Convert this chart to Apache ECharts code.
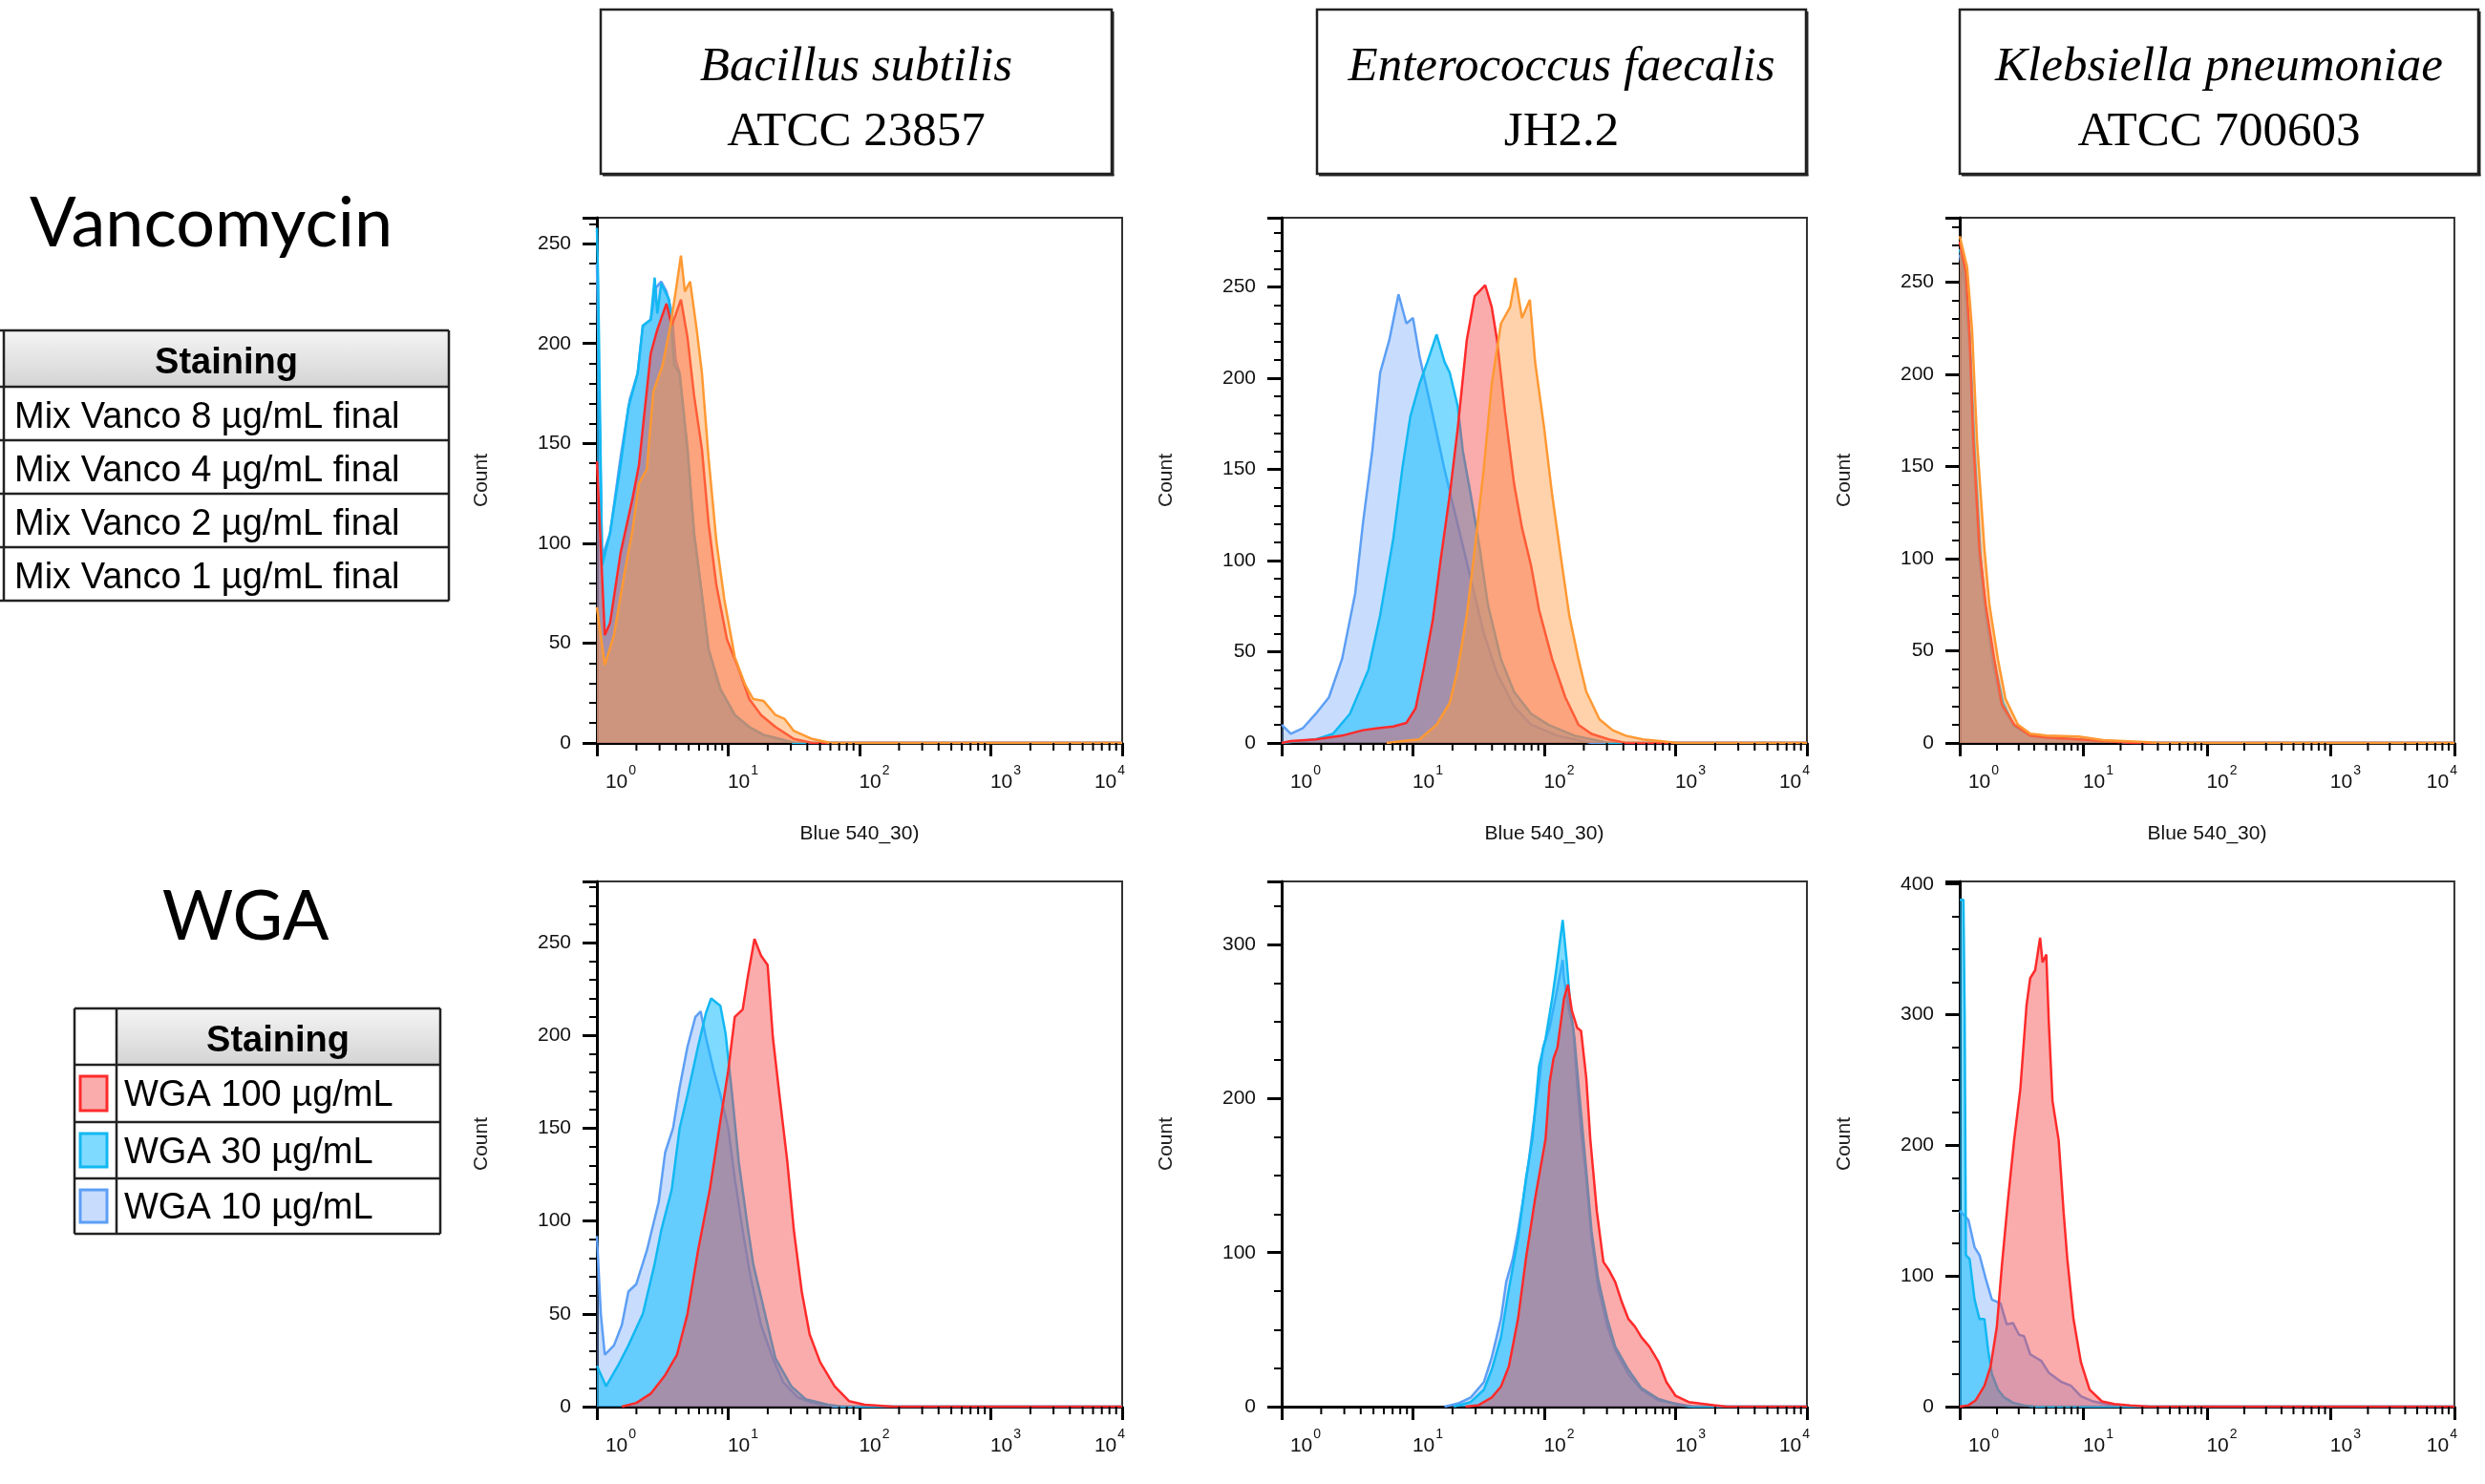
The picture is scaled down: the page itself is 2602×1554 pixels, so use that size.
<!DOCTYPE html>
<html>
<head>
<meta charset="utf-8">
<script src="https://cdn.jsdelivr.net/npm/echarts@6/dist/echarts.min.js"></script>
<style>
html, body { margin: 0; padding: 0; background: #fff; }
#chart { width: 2602px; height: 1554px; }
</style>
</head>
<body>
<div id="chart"></div>
<script>
// x values are log10 of the fluorescence (Blue 540_30), y values are counts
const decadeTicks = [0, 1, 2, 3, 4];
const minorFactors = [2, 3, 4, 5, 6, 7, 8, 9];

const speciesNames = ['Bacillus subtilis', 'Enterococcus faecalis', 'Klebsiella pneumoniae'];
const strainNames = ['ATCC 23857', 'JH2.2', 'ATCC 700603'];
const vancoLabels = ['Mix Vanco 8 µg/mL final', 'Mix Vanco 4 µg/mL final', 'Mix Vanco 2 µg/mL final', 'Mix Vanco 1 µg/mL final'];
const wgaLabels = ['WGA 100 µg/mL', 'WGA 30 µg/mL', 'WGA 10 µg/mL'];

// Bacillus subtilis - vancomycin
const bacV1 = [[0,240],[0.01,200],[0.04,93],[0.1,105],[0.18,143],[0.25,172],[0.31,185],[0.35,209],[0.41,212],[0.45,228],[0.49,231],[0.53,226],[0.57,216],[0.6,192],[0.63,185],[0.69,147],[0.74,105],[0.8,74],[0.85,47],[0.94,27],[1.05,14],[1.16,8],[1.27,4],[1.39,2],[1.5,0],[4,0]];
const bacV2 = [[0,258],[0.01,230],[0.04,89],[0.1,105],[0.18,139],[0.24,168],[0.31,185],[0.35,209],[0.41,212],[0.44,233],[0.46,215],[0.49,230],[0.55,222],[0.59,189],[0.63,185],[0.69,147],[0.74,105],[0.8,74],[0.85,47],[0.94,27],[1.05,14],[1.16,8],[1.27,4],[1.39,2],[1.5,0],[4,0]];
const bacV4 = [[0,141],[0.06,54],[0.1,60],[0.18,95],[0.27,122],[0.32,139],[0.36,164],[0.41,195],[0.46,207],[0.53,220],[0.57,209],[0.64,222],[0.69,203],[0.74,174],[0.8,147],[0.85,110],[0.91,79],[0.99,52],[1.08,37],[1.16,22],[1.25,14],[1.36,8],[1.5,2],[1.64,0],[4,0]];
const bacV8 = [[0,68],[0.06,39],[0.13,54],[0.21,85],[0.27,106],[0.32,130],[0.38,137],[0.43,176],[0.5,189],[0.56,209],[0.6,226],[0.64,244],[0.67,226],[0.71,231],[0.76,207],[0.8,185],[0.85,143],[0.91,101],[0.97,72],[1.05,43],[1.13,29],[1.19,22],[1.27,21],[1.36,14],[1.43,12],[1.5,6],[1.64,2],[1.78,0],[4,0]];

// Enterococcus faecalis - vancomycin
const entV1 = [[0,10],[0.07,5],[0.16,8],[0.26,16],[0.36,25],[0.46,46],[0.56,82],[0.62,121],[0.69,160],[0.75,203],[0.82,221],[0.89,246],[0.95,230],[1.0,233],[1.05,212],[1.15,180],[1.24,150],[1.34,120],[1.44,90],[1.54,60],[1.64,38],[1.77,20],[1.9,10],[2.1,4],[2.36,0],[4,0]];
const entV2 = [[0,0],[0.26,2],[0.39,5],[0.52,16],[0.66,40],[0.75,70],[0.85,112],[0.92,151],[0.98,179],[1.05,197],[1.11,209],[1.18,224],[1.24,209],[1.28,203],[1.34,185],[1.38,160],[1.44,136],[1.51,106],[1.57,76],[1.67,46],[1.77,28],[1.9,16],[2.03,10],[2.23,4],[2.49,0],[4,0]];
const entV4 = [[0,0],[0.07,1],[0.26,2],[0.46,4],[0.62,7],[0.72,8],[0.85,9],[0.95,11],[1.02,19],[1.08,40],[1.15,67],[1.21,100],[1.28,136],[1.34,172],[1.41,221],[1.47,245],[1.55,251],[1.6,239],[1.64,221],[1.7,182],[1.77,142],[1.83,118],[1.9,97],[1.96,73],[2.06,46],[2.16,25],[2.26,10],[2.36,5],[2.49,2],[2.62,0],[4,0]];
const entV8 = [[0.8,0],[0.92,1],[1.05,2],[1.18,10],[1.28,22],[1.34,40],[1.41,70],[1.47,106],[1.54,151],[1.6,197],[1.67,230],[1.74,239],[1.78,255],[1.83,233],[1.89,243],[1.93,209],[2.0,172],[2.06,136],[2.13,100],[2.19,70],[2.26,46],[2.32,28],[2.42,13],[2.52,7],[2.62,4],[2.75,2],[2.88,1],[3.01,0],[4,0]];

// Klebsiella pneumoniae - vancomycin
const klbV1 = [[0,265],[0.04,248],[0.08,215],[0.11,160],[0.16,100],[0.21,70],[0.27,42],[0.34,20],[0.44,9],[0.57,4],[0.7,3],[0.96,2],[1.2,1],[1.4,0],[4,0]];
const klbV2 = [[0,268],[0.05,250],[0.08,222],[0.12,160],[0.17,100],[0.21,72],[0.28,44],[0.35,22],[0.44,9],[0.57,4],[0.7,3],[0.96,2],[1.2,1],[1.4,0],[4,0]];
const klbV4 = [[0,272],[0.05,255],[0.08,220],[0.11,164],[0.16,105],[0.21,75],[0.28,45],[0.34,21],[0.44,10],[0.57,4],[0.7,3],[0.96,2],[1.16,1],[1.4,0],[4,0]];
const klbV8 = [[0,275],[0.01,274],[0.06,258],[0.1,224],[0.14,164],[0.2,105],[0.24,75],[0.31,45],[0.37,24],[0.47,10],[0.57,5],[0.7,4],[0.96,3.5],[1.16,1.5],[1.49,0.5],[1.62,0],[4,0]];

// Bacillus subtilis - WGA
const bacW10 = [[0,92],[0.03,50],[0.06,28],[0.13,33],[0.19,44],[0.24,62],[0.3,66],[0.38,84],[0.47,110],[0.52,137],[0.58,150],[0.63,172],[0.69,194],[0.75,210],[0.79,213],[0.83,199],[0.89,181],[0.94,168],[1.0,150],[1.05,123],[1.11,95],[1.17,70],[1.25,44],[1.34,26],[1.42,13],[1.53,5],[1.64,2],[1.81,0],[4,0]];
const bacW30 = [[0,22],[0.07,11],[0.16,22],[0.24,33],[0.35,50],[0.44,77],[0.49,95],[0.57,117],[0.63,150],[0.69,168],[0.77,194],[0.83,212],[0.87,220],[0.94,216],[0.98,201],[1.03,168],[1.08,132],[1.14,101],[1.19,77],[1.28,50],[1.36,26],[1.48,11],[1.59,4],[1.76,1],[1.87,0],[4,0]];
const bacW100 = [[0.19,0],[0.3,2],[0.41,7],[0.52,17],[0.61,28],[0.69,50],[0.77,84],[0.86,117],[0.94,154],[1.0,181],[1.05,210],[1.11,214],[1.15,232],[1.2,252],[1.25,243],[1.3,238],[1.34,199],[1.39,168],[1.45,132],[1.5,95],[1.56,62],[1.62,39],[1.7,24],[1.81,11],[1.92,3],[2.04,1],[2.26,0],[4,0]];

// Enterococcus faecalis - WGA
const entW10 = [[1.24,0],[1.34,2],[1.44,6],[1.54,16],[1.6,32],[1.67,57],[1.71,81],[1.76,96],[1.8,114],[1.84,135],[1.88,158],[1.91,179],[1.96,210],[1.99,233],[2.04,246],[2.09,267],[2.14,290],[2.15,278],[2.19,257],[2.22,246],[2.25,210],[2.28,179],[2.32,148],[2.36,109],[2.41,78],[2.48,52],[2.54,37],[2.64,21],[2.74,11],[2.87,4],[3.0,2],[3.13,0],[4,0]];
const entW30 = [[1.31,0],[1.44,3],[1.54,11],[1.6,24],[1.67,45],[1.73,76],[1.8,109],[1.86,148],[1.91,174],[1.96,221],[2.01,239],[2.06,265],[2.09,283],[2.14,316],[2.17,290],[2.2,259],[2.23,239],[2.27,200],[2.32,153],[2.36,114],[2.41,83],[2.48,57],[2.54,39],[2.64,24],[2.74,12],[2.87,5],[3.03,1],[3.13,0],[4,0]];
const entW100 = [[1.4,0],[1.5,1],[1.6,6],[1.67,13],[1.73,26],[1.8,57],[1.86,96],[1.93,135],[2.01,174],[2.04,210],[2.07,226],[2.1,233],[2.15,265],[2.18,274],[2.21,257],[2.25,246],[2.28,244],[2.32,213],[2.35,174],[2.4,127],[2.45,94],[2.49,89],[2.54,81],[2.59,68],[2.64,57],[2.69,52],[2.74,45],[2.8,39],[2.87,29],[2.93,16],[3.0,7],[3.1,3],[3.19,2],[3.29,1],[3.39,0],[4,0]];

// Klebsiella pneumoniae - WGA
const klbW10 = [[0,150],[0.04,146],[0.07,143],[0.12,122],[0.16,116],[0.21,98],[0.26,82],[0.33,79],[0.38,63],[0.43,64],[0.48,55],[0.52,54],[0.57,40],[0.66,35],[0.72,26],[0.82,19],[0.9,16],[0.98,8],[1.08,4],[1.18,2],[1.28,0],[4,0]];
const klbW30 = [[0,388],[0.03,388],[0.04,300],[0.05,116],[0.08,113],[0.12,82],[0.16,67],[0.2,67],[0.23,43],[0.26,25],[0.31,13],[0.36,7],[0.43,3],[0.52,1],[0.62,0],[4,0]];
const klbW100 = [[0,0],[0.07,1],[0.13,5],[0.2,16],[0.25,31],[0.3,61],[0.34,107],[0.39,158],[0.44,204],[0.49,243],[0.54,307],[0.57,328],[0.61,334],[0.65,359],[0.67,340],[0.7,346],[0.72,295],[0.75,234],[0.8,204],[0.84,149],[0.87,113],[0.92,67],[0.98,34],[1.05,13],[1.15,4],[1.25,2],[1.38,1],[1.54,0],[4,0]];

var blue = { line: '#5d9ff5', area: 'rgba(125,175,250,0.42)' };
var cyan = { line: '#12b8f2', area: 'rgba(20,190,255,0.55)' };
var red = { line: '#ff2b2b', area: 'rgba(245,70,70,0.45)' };
var orange = { line: '#ff9933', area: 'rgba(255,155,70,0.45)' };

var panels = [
    { left: 625, top: 228, width: 550, yMax: 263, major: 50, minor: 10, xName: true, sets: [bacV1, bacV2, bacV4, bacV8], colors: [blue, cyan, red, orange] },
    { left: 1342, top: 228, width: 550, yMax: 288, major: 50, minor: 10, xName: true, sets: [entV1, entV2, entV4, entV8], colors: [blue, cyan, red, orange] },
    { left: 2052, top: 228, width: 551, yMax: 285, major: 50, minor: 10, xName: true, sets: [klbV1, klbV2, klbV4, klbV8], colors: [blue, cyan, red, orange] },
    { left: 625, top: 923, width: 550, yMax: 283, major: 50, minor: 10, xName: false, sets: [bacW10, bacW30, bacW100], colors: [blue, cyan, red] },
    { left: 1342, top: 923, width: 550, yMax: 341, major: 100, minor: 25, xName: false, sets: [entW10, entW30, entW100], colors: [blue, cyan, red] },
    { left: 2052, top: 923, width: 551, yMax: 402, major: 100, minor: 25, xName: false, sets: [klbW10, klbW30, klbW100], colors: [blue, cyan, red] }
];

var axisFont = 'Liberation Sans';

// minor ticks of the log axis, at 2..9 times each decade
var minorTickData = [];
decadeTicks.slice(0, 4).forEach(function (d) {
    minorFactors.forEach(function (k) { minorTickData.push([d + Math.log10(k), 0]); });
});

function minorTickItem(params, api) {
    var p = api.coord([api.value(0), 0]);
    return {
        type: 'line',
        shape: { x1: p[0], y1: p[1], x2: p[0], y2: p[1] + 8 },
        style: { stroke: '#000', lineWidth: 2 }
    };
}

// 10^n label, shifted right of its tick (last one shifted left)
function decadeLabel(v) {
    if (v === 4) return '{b|10}{s|' + v + '}{g4| }';
    if (v === 0) return '{g0| }{b|10}{s|' + v + '}';
    return '{g1| }{b|10}{s|' + v + '}';
}

var grid = [], xAxis = [], yAxis = [], series = [];

panels.forEach(function (p, i) {
    grid.push({ left: p.left, top: p.top, width: p.width, height: 550, show: true, borderColor: '#333', borderWidth: 2 });
    xAxis.push({
        gridIndex: i, type: 'value', min: 0, max: 4, interval: 1,
        name: p.xName ? 'Blue 540_30)' : '', nameLocation: 'middle', nameGap: 85,
        nameTextStyle: { fontSize: 21, fontFamily: axisFont, color: '#111' },
        axisLine: { show: true, onZero: false, lineStyle: { color: '#000', width: 3 } },
        axisTick: { show: true, length: 14, lineStyle: { color: '#000', width: 3 } },
        splitLine: { show: false },
        axisLabel: {
            align: 'center', margin: 22,
            formatter: decadeLabel,
            rich: {
                b: { fontSize: 21, fontFamily: axisFont, color: '#111', lineHeight: 22, verticalAlign: 'top', padding: [9, 0, 0, 0] },
                s: { fontSize: 14, fontFamily: axisFont, color: '#111', lineHeight: 14, verticalAlign: 'top', padding: [0, 0, 17, 1] },
                g0: { width: 50, fontSize: 10, lineHeight: 10 },
                g1: { width: 31, fontSize: 10, lineHeight: 10 },
                g4: { width: 26, fontSize: 10, lineHeight: 10 }
            }
        }
    });
    yAxis.push({
        gridIndex: i, type: 'value', position: 'left', min: 0, max: p.yMax, interval: p.major,
        name: 'Count', nameLocation: 'middle', nameGap: 110, nameRotate: 90,
        nameTextStyle: { fontSize: 21, fontFamily: axisFont, color: '#222' },
        axisLine: { show: true, lineStyle: { color: '#000', width: 3 } },
        axisTick: { show: true, length: 15, lineStyle: { color: '#000', width: 3 } },
        splitLine: { show: false },
        axisLabel: {
            margin: 27, fontSize: 21, fontFamily: axisFont, color: '#111',
            formatter: function (v) { return v % p.major === 0 ? String(v) : ''; }
        }
    });
    yAxis.push({
        gridIndex: i, type: 'value', position: 'left', min: 0, max: p.yMax, interval: p.minor,
        axisLine: { show: false },
        axisTick: { show: true, length: 8, lineStyle: { color: '#000', width: 2 } },
        axisLabel: { show: false },
        splitLine: { show: false }
    });
    p.sets.forEach(function (d, k) {
        series.push({
            type: 'line', xAxisIndex: i, yAxisIndex: 2 * i, data: d,
            symbol: 'none', showSymbol: false, smooth: false,
            lineStyle: { color: p.colors[k].line, width: 2.5 },
            itemStyle: { color: p.colors[k].line },
            areaStyle: { color: p.colors[k].area, opacity: 1 },
            z: 2 + k
        });
    });
    series.push({
        type: 'custom', xAxisIndex: i, yAxisIndex: 2 * i, data: minorTickData,
        renderItem: minorTickItem, clip: false, silent: true, z: 10
    });
});

var elements = [];

function addText(x, y, text, size, family, opts) {
    opts = opts || {};
    elements.push({
        type: 'text', x: x, y: y, z: 20,
        style: {
            text: text, fontSize: size, fontFamily: family,
            fontStyle: opts.italic ? 'italic' : 'normal',
            fontWeight: opts.bold ? 'bold' : 'normal',
            fill: '#000', align: opts.align || 'center', verticalAlign: 'middle'
        }
    });
}

function addLine(x1, y1, x2, y2, w) {
    elements.push({ type: 'line', z: 21, shape: { x1: x1, y1: y1, x2: x2, y2: y2 }, style: { stroke: '#222', lineWidth: w || 2.5 } });
}

function addRect(x, y, w, h, fill, stroke, lw) {
    elements.push({ type: 'rect', z: 19, shape: { x: x, y: y, width: w, height: h }, style: { fill: fill, stroke: stroke || null, lineWidth: lw || 0 } });
}

// column headers
var boxes = [[629, 535], [1379, 512], [2052, 543]];
boxes.forEach(function (b, i) {
    addRect(b[0], 10, b[1], 172, '#fff', '#222', 2.5);
    addLine(b[0] + b[1] + 1.5, 12, b[0] + b[1] + 1.5, 184, 2);
    addLine(b[0] + 2, 183.5, b[0] + b[1] + 2.5, 183.5, 2);
    addText(b[0] + b[1] / 2, 71, speciesNames[i], 51, 'Liberation Serif', { italic: true });
    addText(b[0] + b[1] / 2, 139, strainNames[i], 51, 'Liberation Serif');
});

// row titles
addText(31, 235, 'Vancomycin', 72, 'Lato', { align: 'left' });
addText(257, 961, 'WGA', 72, 'Lato');

var headGrad = { type: 'linear', x: 0, y: 0, x2: 0, y2: 1, colorStops: [{ offset: 0, color: '#f4f4f4' }, { offset: 1, color: '#d4d4d4' }] };

// vancomycin table (swatch column is cut off at the left edge)
var vRows = [346, 405, 461, 517, 573, 629];
addRect(4, 346, 466, 59, headGrad);
vRows.forEach(function (y) { addLine(0, y, 470, y); });
addLine(4, 346, 4, 629);
addLine(470, 346, 470, 629);
addText(237, 381, 'Staining', 38, axisFont, { bold: true });
vancoLabels.forEach(function (t, i) {
    addText(15, (vRows[i + 1] + vRows[i + 2]) / 2 + 5, t, 38, axisFont, { align: 'left' });
});

// WGA table
var wRows = [1056, 1115, 1175, 1234, 1292];
var wgaSwatches = [red, cyan, blue];
addRect(122, 1056, 339, 59, headGrad);
wRows.forEach(function (y) { addLine(78, y, 461, y); });
addLine(78, 1056, 78, 1292);
addLine(122, 1056, 122, 1292);
addLine(461, 1056, 461, 1292);
addText(291, 1091, 'Staining', 38, axisFont, { bold: true });
wgaLabels.forEach(function (t, i) {
    var y0 = wRows[i + 1], y1 = wRows[i + 2];
    addRect(84, y0 + 12, 28, y1 - y0 - 24, wgaSwatches[i].area, wgaSwatches[i].line, 3);
    addText(130, (y0 + y1) / 2 + 3, t, 38, axisFont, { align: 'left' });
});

var chart = echarts.init(document.getElementById('chart'));
chart.setOption({
    animation: false,
    backgroundColor: '#fff',
    grid: grid,
    xAxis: xAxis,
    yAxis: yAxis,
    series: series,
    graphic: { elements: elements }
});
</script>
</body>
</html>
